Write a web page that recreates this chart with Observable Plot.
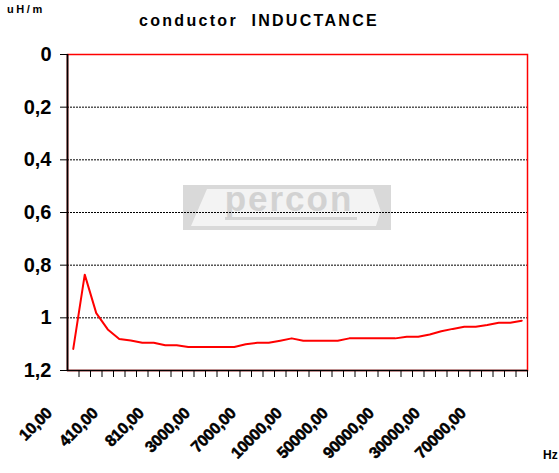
<!DOCTYPE html>
<html><head><meta charset="utf-8">
<script src="https://cdn.jsdelivr.net/npm/d3@7"></script>
<script src="https://cdn.jsdelivr.net/npm/@observablehq/plot@0.6"></script>
<style>
html,body{margin:0;padding:0;background:#fff;}
#wrap{position:relative;width:559px;height:473px;overflow:hidden;font-family:"Liberation Sans",Arial,sans-serif;}
.t{position:absolute;font-weight:bold;color:#000;white-space:nowrap;line-height:1;}
#unit{left:7px;top:4px;font-size:11px;letter-spacing:2.6px;}
#title{left:139px;top:13px;font-size:16px;letter-spacing:2.3px;}
#hz{left:543px;top:449px;font-size:12px;}
#wm{position:absolute;left:0;top:0;}
#chart{position:absolute;left:0;top:0;}
#chart svg g[aria-label="y-axis tick label"] text{font-weight:bold;fill:#000;}
#chart svg g[aria-label="x-axis tick label"] text{font-weight:bold;fill:#000;stroke:#000;stroke-width:0.5px;letter-spacing:-0.3px;}
</style></head>
<body>
<div id="wrap">
<svg id="wm" width="559" height="473">
  <rect x="183" y="185" width="208" height="45" fill="#d9d9d9"/>
  <polygon points="207,189 373,189 386,226 191,226" fill="#f3f3f3"/>
  <polygon points="376,226 383,204 390,226" fill="#d9d9d9"/>
  <rect x="225" y="217" width="132" height="3" fill="#d4d4d4"/>
  <text x="289" y="211" text-anchor="middle" font-family="Liberation Sans, Arial, sans-serif" font-weight="bold" font-size="35" fill="#d2d2d2" letter-spacing="2">percon</text>
</svg>
<div id="chart"></div>
<div class="t" id="unit">uH/m</div>
<div class="t" id="title">conductor&nbsp; INDUCTANCE</div>
<div class="t" id="hz">Hz</div>
</div>
<script>
const categories = [10,110,210,310,410,510,610,710,810,910,1000,2000,3000,4000,5000,6000,7000,8000,9000,9500,10000,20000,30000,40000,50000,60000,70000,80000,90000,100000,150000,200000,300000,400000,500000,600000,700000,800000,900000,1000000];
const values = [1.118,0.836,0.982,1.044,1.08,1.086,1.095,1.095,1.104,1.104,1.111,1.111,1.111,1.111,1.111,1.10,1.095,1.095,1.087,1.078,1.087,1.087,1.087,1.087,1.078,1.078,1.078,1.078,1.078,1.072,1.072,1.063,1.051,1.042,1.034,1.034,1.027,1.019,1.019,1.011];
const tickLabels = ["10,00","410,00","810,00","3000,00","7000,00","10000,00","50000,00","90000,00","30000,00","70000,00"];
const yTicks = [0,0.2,0.4,0.6,0.8,1,1.2];

const W = 559, H = 473, mL = 67, mR = 32, mT = 54, mB = 103;
const step = (W - mL - mR) / categories.length;
const fmt = d => String(+d.toFixed(1)).replace(".", ",");
const labeled = categories.filter((d, i) => i % 4 === 0);

const chart = Plot.plot({
  width: W, height: H,
  marginLeft: mL, marginRight: mR, marginTop: mT, marginBottom: mB,
  style: {background: "transparent", fontFamily: "Liberation Sans, Arial, sans-serif", color: "#000"},
  x: {type: "point", domain: categories, padding: 0.5, round: false},
  y: {domain: [0, 1.2], reverse: true},
  marks: [
    Plot.ruleY(yTicks.slice(1, -1), {stroke: "#000", strokeDasharray: "2,1", strokeWidth: 1}),
    Plot.frame({stroke: "#ff0000", strokeWidth: 1.5}),
    Plot.ruleY([1.2], {stroke: "#000", strokeWidth: 1.5}),
    Plot.ruleX([categories[0]], {dx: -step / 2, y1: 0, y2: 1.2, stroke: "#000", strokeWidth: 1.8}),
    Plot.axisY({ticks: yTicks, tickFormat: fmt, tickSize: 7, tickPadding: 9, fontSize: 20, label: null}),
    Plot.axisX({ticks: categories, tickSize: 7, text: null, dx: step / 2, label: null}),
    Plot.axisX({ticks: labeled, tickSize: 0, tickPadding: 40, tickRotate: -45, dx: -24, tickFormat: (d, i) => tickLabels[i], fontSize: 16, label: null}),
    Plot.lineY(values, {x: categories, stroke: "#ff0000", strokeWidth: 2})
  ]
});
document.getElementById("chart").appendChild(chart);
</script>
</body></html>
